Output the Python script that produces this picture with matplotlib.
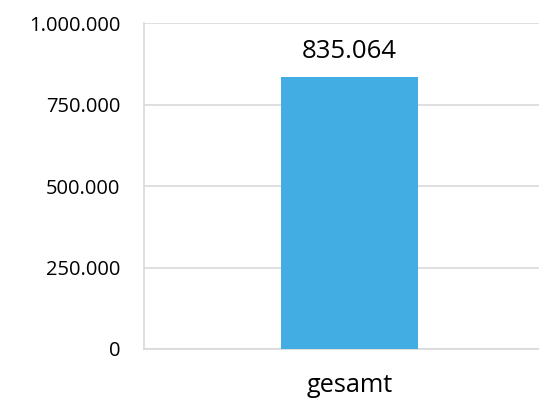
import matplotlib
matplotlib.use("Agg")
import matplotlib.pyplot as plt
from matplotlib.ticker import FuncFormatter

categories = ["gesamt"]
values = [835064]
yticks = [0, 250000, 500000, 750000, 1000000]

bar_color = "#41ADE3"
grid_color = "#D9D9D9"

plt.rcParams['font.family'] = ['Open Sans', 'DejaVu Sans']


def de_fmt(v, pos=None):
    return "{:,.0f}".format(v).replace(",", ".")


fig = plt.figure(figsize=(5.39, 4.00), dpi=100)
ax = fig.add_axes([144 / 539, 51 / 400, 395 / 539, 326 / 400])

x = list(range(len(categories)))
bars = ax.bar(x, values, width=0.333, color=bar_color, zorder=3)

for b, v in zip(bars, values):
    ax.annotate(de_fmt(v), (b.get_x() + b.get_width() / 2, v),
                xytext=(0, 9), textcoords="offset points",
                ha="center", va="bottom", fontsize=18.5, color="#000000")

ax.set_xlim(-0.5, 0.461)
ax.set_ylim(0, 1000000)
ax.set_yticks(yticks)
ax.yaxis.set_major_formatter(FuncFormatter(de_fmt))
ax.set_xticks(x)
ax.set_xticklabels(categories, fontsize=18.2)
ax.tick_params(axis="y", length=0, pad=17, labelsize=14.5)
ax.tick_params(axis="x", length=0, pad=17)

ax.grid(axis="y", color=grid_color, linewidth=1.2, zorder=0)
for s in ["top", "right"]:
    ax.spines[s].set_visible(False)
for s in ["left", "bottom"]:
    ax.spines[s].set_color(grid_color)
    ax.spines[s].set_linewidth(1.2)

fig.savefig("out.png", dpi=100)
